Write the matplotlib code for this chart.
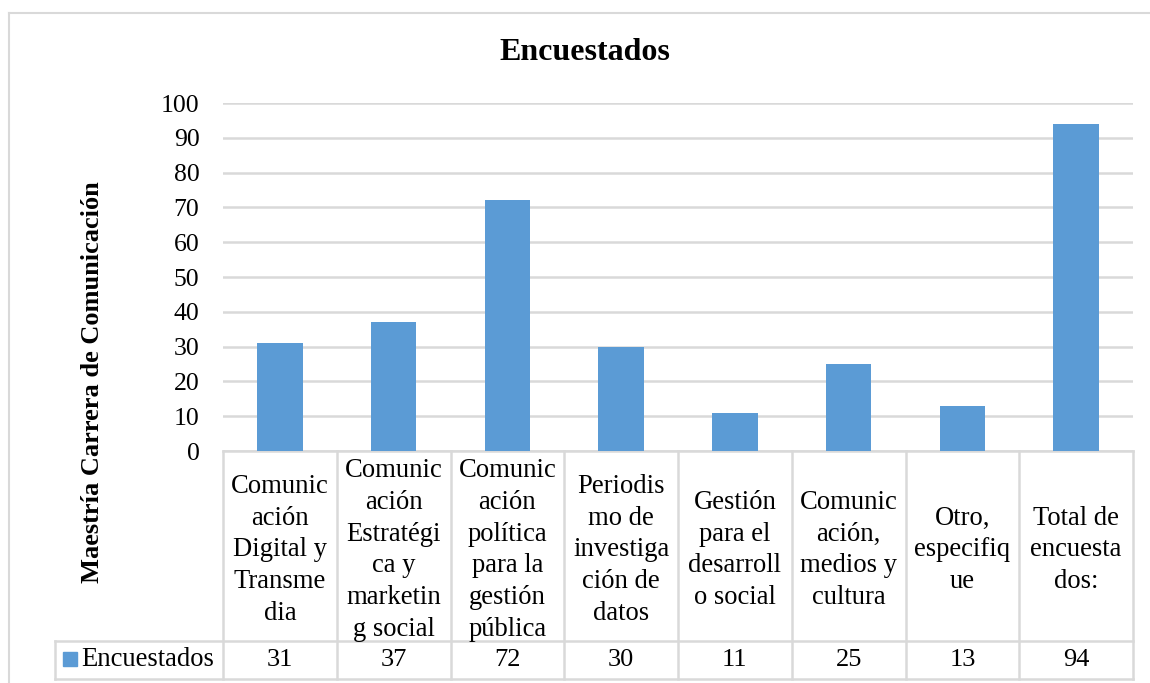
import matplotlib
matplotlib.use("Agg")
import matplotlib.pyplot as plt
from matplotlib.transforms import blended_transform_factory
from matplotlib.patches import Rectangle

# data
categorias = ["Comunic\nación\nDigital y\nTransme\ndia",
              "Comunic\nación\nEstratégi\nca y\nmarketin\ng social",
              "Comunic\nación\npolítica\npara la\ngestión\npública",
              "Periodis\nmo de\ninvestiga\nción de\ndatos",
              "Gestión\npara el\ndesarroll\no social",
              "Comunic\nación,\nmedios y\ncultura",
              "Otro,\nespecifiq\nue",
              "Total de\nencuesta\ndos:"]
encuestados = [31, 37, 72, 30, 11, 25, 13, 94]
serie = "Encuestados"
yticks = list(range(0, 101, 10))

plt.rcParams['font.family'] = ['Liberation Serif', 'DejaVu Serif']
azul = '#5B9BD5'
gris = '#D9D9D9'
W, H = 1150, 683

fig = plt.figure(figsize=(W / 100, H / 100), dpi=100)
fig.patch.set_facecolor('white')

# plot area in pixels: x 223..1133, y 103..451
ax = fig.add_axes([223 / W, 1 - 451 / H, (1133 - 223) / W, (451 - 103) / H])
n = len(encuestados)
ax.bar(range(n), encuestados, width=0.4, color=azul, zorder=3)
ax.set_xlim(-0.5, n - 0.5)
ax.set_ylim(0, 100)
ax.set_yticks(yticks)
ax.tick_params(axis='y', length=0, pad=17, labelsize=18.5)
ax.tick_params(axis='x', length=0, labelbottom=False)
ax.yaxis.grid(True, color=gris, linewidth=1.8, zorder=0)
for s in ax.spines.values():
    s.set_visible(False)

# data table under the axis
tr = blended_transform_factory(ax.transData, ax.transAxes)
px = 348.0
y_top = 0
y_mid = -(641 - 451) / px
y_bot = -(679 - 451) / px
x_leg = (55 - 223) / 113.75 - 0.5
lw = 1.8
ax.plot([-0.5, n - 0.5], [y_top, y_top], color=gris, lw=lw, transform=tr, clip_on=False)
ax.plot([x_leg, n - 0.5], [y_mid, y_mid], color=gris, lw=lw, transform=tr, clip_on=False)
ax.plot([x_leg, n - 0.5], [y_bot, y_bot], color=gris, lw=lw, transform=tr, clip_on=False)
ax.plot([x_leg, x_leg], [y_mid, y_bot], color=gris, lw=lw, transform=tr, clip_on=False)
for i in range(n + 1):
    ax.plot([i - 0.5, i - 0.5], [y_top, y_bot], color=gris, lw=lw, transform=tr, clip_on=False)

y_cat = (y_top + y_mid) / 2 - 4 / px
for i, (c, v) in enumerate(zip(categorias, encuestados)):
    ax.text(i, y_cat, c, transform=tr, ha='center', va='center',
            fontsize=19.2, linespacing=1.36)
    ax.text(i, (y_mid + y_bot) / 2, str(v), transform=tr, ha='center', va='center',
            fontsize=19)

# legend key
fig.patches.append(Rectangle((63 / W, 1 - 666 / H), 14 / W, 14 / H,
                             transform=fig.transFigure, color=azul))
fig.text(81 / W, 1 - 660 / H, serie, ha='left', va='center', fontsize=19.2)

# titles
fig.text(585 / W, 1 - 53 / H, "Encuestados", ha='center', va='center',
         fontsize=23, fontweight='bold')
fig.text(93 / W, 1 - 382 / H, "Maestría Carrera de Comunicación", ha='center',
         va='center', rotation=90, fontsize=19, fontweight='bold')

# chart border (left and top visible)
fig.lines.append(plt.Line2D([9 / W, 9 / W], [0, 1 - 13 / H], transform=fig.transFigure,
                            color=gris, lw=1.5))
fig.lines.append(plt.Line2D([9 / W, 1], [1 - 13 / H, 1 - 13 / H], transform=fig.transFigure,
                            color=gris, lw=1.5))

fig.savefig("out.png", dpi=100)
